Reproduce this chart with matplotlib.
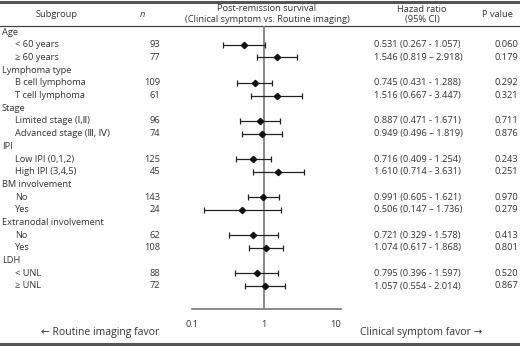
import matplotlib
matplotlib.use("Agg")
import matplotlib.pyplot as plt
import numpy as np

plt.rcParams['font.family'] = ['Open Sans', 'DejaVu Sans', 'Noto Sans CJK KR']

# table data
groups = ["Age", "Lymphoma type", "Stage", "IPI", "BM involvement",
          "Extranodal involvement", "LDH"]
subgroups = ["< 60 years", "\u2265 60 years",
             "B cell lymphoma", "T cell lymphoma",
             "Limited stage (\u2160,\u2161)", "Advanced stage (\u2162, \u2163)",
             "Low IPI (0,1,2)", "High IPI (3,4,5)",
             "No", "Yes",
             "No", "Yes",
             "< UNL", "\u2265 UNL"]
n_pat = [93, 77, 109, 61, 96, 74, 125, 45, 143, 24, 62, 108, 88, 72]
hr = [0.531, 1.546, 0.745, 1.516, 0.887, 0.949, 0.716, 1.610, 0.991, 0.506,
      0.721, 1.074, 0.795, 1.057]
ci_lo = [0.267, 0.819, 0.431, 0.667, 0.471, 0.496, 0.409, 0.714, 0.605, 0.147,
         0.329, 0.617, 0.396, 0.554]
ci_hi = [1.057, 2.918, 1.288, 3.447, 1.671, 1.819, 1.254, 3.631, 1.621, 1.736,
         1.578, 1.868, 1.597, 2.014]
dash = ["-", "\u2013", "-", "-", "-", "\u2013", "-", "-", "-", "\u2013",
        "-", "-", "-", "-"]
p_val = ["0.060", "0.179", "0.292", "0.321", "0.711", "0.876", "0.243",
         "0.251", "0.970", "0.279", "0.413", "0.801", "0.520", "0.867"]

W, H = 520, 347
fig = plt.figure(figsize=(W / 100, H / 100), dpi=100)

# overlay axes in pixel units for text and rules
bg = fig.add_axes([0, 0, 1, 1])
bg.set_xlim(0, W)
bg.set_ylim(H, 0)
bg.axis('off')

txt = '#333333'
fs = 6.7

# rules
bg.plot([0, W], [2, 2], color='#555555', lw=2.2)
bg.plot([0, W], [343.5, 343.5], color='#555555', lw=2.2)
bg.plot([0, W], [25.5, 25.5], color='#444444', lw=0.9)

# header
bg.text(57, 14, "Subgroup", ha='center', va='center', fontsize=fs, color=txt)
bg.text(142, 14, "n", ha='center', va='center', fontsize=fs, color=txt,
        style='italic')
bg.text(267, 8, "Post-remission survival", ha='center', va='center',
        fontsize=fs, color=txt)
bg.text(267, 19, "(Clinical symptom vs. Routine imaging)", ha='center',
        va='center', fontsize=fs, color=txt)
bg.text(422, 9, "Hazad ratio", ha='center', va='center', fontsize=fs, color=txt)
bg.text(422, 19, "(95% CI)", ha='center', va='center', fontsize=fs, color=txt)
bg.text(497, 14, "P value", ha='center', va='center', fontsize=fs, color=txt)

# rows
row_h = 12.7
y0 = 32
ys = []
k = 0
row = 0
for g in groups:
    bg.text(2, y0 + row * row_h, g, ha='left', va='center', fontsize=fs,
            color=txt)
    row += 1
    for _ in range(2):
        y = y0 + row * row_h
        ys.append(y)
        bg.text(15, y, subgroups[k], ha='left', va='center', fontsize=fs,
                color=txt)
        bg.text(160, y, str(n_pat[k]), ha='right', va='center', fontsize=fs,
                color=txt)
        bg.text(374, y, f"{hr[k]:.3f} ({ci_lo[k]:.3f} {dash[k]} {ci_hi[k]:.3f})",
                ha='left', va='center', fontsize=fs, color=txt)
        bg.text(518, y, p_val[k], ha='right', va='center', fontsize=fs,
                color=txt)
        k += 1
        row += 1

bg.text(100, 332, "\u2190 Routine imaging favor", ha='center', va='center',
        fontsize=7.5, color=txt)
bg.text(421, 332, "Clinical symptom favor \u2192", ha='center', va='center',
        fontsize=7.5, color=txt)

# forest plot axes
ax = fig.add_axes([192 / W, 1 - 308.5 / H, 149 / W, (308.5 - 25.5) / H])
ax.patch.set_alpha(0)
ax.set_xscale('log')
ax.set_xlim(0.117, 12)
ax.set_ylim(308.5, 25.5)
hr_a = np.array(hr)
err = [hr_a - np.array(ci_lo), np.array(ci_hi) - hr_a]
ax.axvline(1, color='#808080', lw=1.3, zorder=1)
ax.errorbar(hr, ys, xerr=err, fmt='D', ms=3.2, color='#111111',
            ecolor='#222222', elinewidth=0.9, capsize=2, capthick=0.9,
            zorder=3)
for s in ['top', 'right', 'left']:
    ax.spines[s].set_visible(False)
ax.spines['bottom'].set_color('#808080')
ax.spines['bottom'].set_linewidth(1.3)
ax.set_yticks([])
ax.set_xticks([0.1, 1, 10])
ax.set_xticklabels(["0.1", "1", "10"])
ax.minorticks_off()
ax.tick_params(axis='x', length=0, pad=8, labelsize=fs, labelcolor=txt)

fig.savefig("out.png", dpi=100)
